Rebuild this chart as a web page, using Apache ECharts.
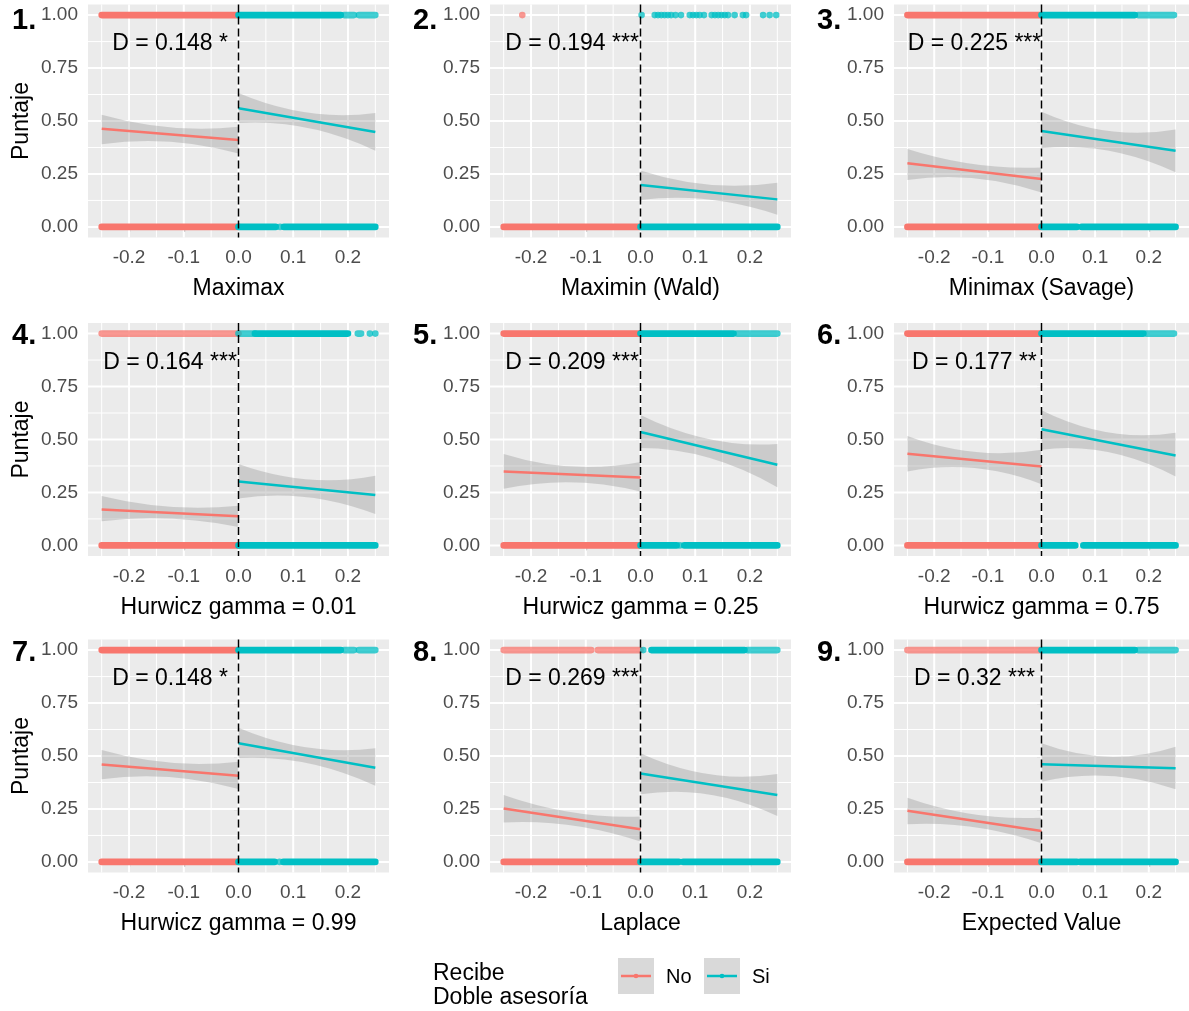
<!DOCTYPE html>
<html><head><meta charset="utf-8">
<script src="https://cdn.jsdelivr.net/npm/echarts@6/dist/echarts.min.js"></script>
<style>html,body{margin:0;padding:0;background:#fff}#c{width:1189px;height:1011px}</style>
</head><body><div id="c"></div>
<script>
// ---------- data ----------
const panelTitles = ['Maximax','Maximin (Wald)','Minimax (Savage)','Hurwicz gamma = 0.01','Hurwicz gamma = 0.25','Hurwicz gamma = 0.75','Hurwicz gamma = 0.99','Laplace','Expected Value'];
const panelTags = ['1.','2.','3.','4.','5.','6.','7.','8.','9.'];
const dLabels = ['D = 0.148 *','D = 0.194 ***','D = 0.225 ***','D = 0.164 ***','D = 0.209 ***','D = 0.177 **','D = 0.148 *','D = 0.269 ***','D = 0.32 ***'];
const xTicks = [-0.2,-0.1,0,0.1,0.2];
const yTicks = [0,0.25,0.5,0.75,1];
const xMinor = [-0.25,-0.15,-0.05,0.05,0.15,0.25];
const yMinor = [0.125,0.375,0.625,0.875];
const groups = ['No','Si'];

// fitted line end values: No at x=-0.25 and 0 ; Si at x=0 and 0.25
const fitXNo = [-0.25, 0];
const fitXSi = [0, 0.25];
const fitNo = [[0.463,0.41],null,[0.30,0.226],[0.17,0.138],[0.349,0.321],[0.433,0.373],[0.46,0.407],[0.252,0.154],[0.242,0.146]];
const fitSi = [[0.56,0.448],[0.198,0.13],[0.453,0.36],[0.302,0.238],[0.535,0.381],[0.548,0.424],[0.56,0.445],[0.417,0.316],[0.461,0.442]];

// confidence band (lower / upper) at 3 x positions
const bandXNo = [-0.25,-0.125,0];
const bandXSi = [0,0.125,0.25];
const bandNoLo = [[0.39,0.402,0.346],null,[0.222,0.23,0.162],[0.114,0.126,0.087],[0.267,0.298,0.254],[0.349,0.365,0.289],[0.39,0.40,0.344],[0.186,0.172,0.096],[0.178,0.164,0.088]];
const bandNoHi = [[0.53,0.47,0.473],null,[0.368,0.296,0.281],[0.233,0.182,0.187],[0.432,0.372,0.394],[0.516,0.441,0.452],[0.528,0.468,0.473],[0.316,0.234,0.214],[0.303,0.224,0.209]];
const bandSiLo = [[0.49,0.468,0.36],[0.127,0.129,0.057],[0.371,0.36,0.258],[0.222,0.228,0.148],[0.46,0.414,0.275],[0.452,0.44,0.325],[0.49,0.467,0.36],[0.319,0.319,0.217],[0.379,0.406,0.343]];
const bandSiHi = [[0.632,0.54,0.538],[0.266,0.199,0.209],[0.544,0.453,0.46],[0.384,0.312,0.329],[0.616,0.502,0.479],[0.638,0.533,0.532],[0.633,0.54,0.536],[0.513,0.414,0.415],[0.56,0.497,0.544]];

// point strips: [group, y, xStart, xEnd, dense(1) / sparse(0)]
const runsP1 = [['No',1,-0.25,0,1],['Si',1,0,0.187,1],['Si',1,0.193,0.211,0],['Si',1,0.22,0.25,0],
  ['No',0,-0.25,0,1],['Si',0,0,0.068,1],['Si',0,0.076,0.076,0],['Si',0,0.083,0.25,1]];
const runsP2 = [['No',1,-0.216,-0.216,0],
  ['Si',1,0.002,0.002,0],['Si',1,0.026,0.026,0],['Si',1,0.032,0.032,0],['Si',1,0.038,0.038,0],['Si',1,0.044,0.044,0],
  ['Si',1,0.05,0.05,0],['Si',1,0.056,0.056,0],['Si',1,0.064,0.064,0],['Si',1,0.074,0.074,0],
  ['Si',1,0.09,0.09,0],['Si',1,0.096,0.096,0],['Si',1,0.102,0.102,0],['Si',1,0.108,0.108,0],['Si',1,0.116,0.116,0],
  ['Si',1,0.13,0.13,0],['Si',1,0.136,0.136,0],['Si',1,0.142,0.142,0],['Si',1,0.148,0.148,0],['Si',1,0.154,0.154,0],
  ['Si',1,0.16,0.16,0],['Si',1,0.172,0.172,0],['Si',1,0.187,0.187,0],['Si',1,0.193,0.193,0],
  ['Si',1,0.224,0.224,0],['Si',1,0.236,0.236,0],['Si',1,0.248,0.248,0],
  ['No',0,-0.25,0,1],['Si',0,0,0.208,1],['Si',0,0.212,0.25,1]];
const runsP3 = [['No',1,-0.25,0,1],['Si',1,0,0.174,1],['Si',1,0.18,0.247,0],
  ['No',0,-0.25,0,1],['Si',0,0,0.066,1],['Si',0,0.075,0.25,1]];
const runsP4 = [['No',1,-0.25,0,0],['Si',1,0,0.03,0],['Si',1,0.03,0.2,1],['Si',1,0.218,0.224,0],['Si',1,0.24,0.24,0],['Si',1,0.25,0.25,0],
  ['No',0,-0.25,0,1],['Si',0,0,0.25,1]];
const runsP5 = [['No',1,-0.25,0,1],['Si',1,0,0.17,1],['Si',1,0.176,0.25,0],
  ['No',0,-0.25,0,1],['Si',0,0,0.066,1],['Si',0,0.072,0.072,0],['Si',0,0.08,0.25,1]];
const runsP6 = [['No',1,-0.25,0,1],['Si',1,0,0.19,1],['Si',1,0.195,0.247,0],
  ['No',0,-0.25,0,1],['Si',0,0,0.063,1],['Si',0,0.078,0.25,1]];
const runsP7 = [['No',1,-0.25,0,1],['Si',1,0,0.187,1],['Si',1,0.193,0.211,0],['Si',1,0.22,0.25,0],
  ['No',0,-0.25,0,1],['Si',0,0,0.066,1],['Si',0,0.075,0.075,0],['Si',0,0.082,0.25,1]];
const runsP8 = [['No',1,-0.25,-0.09,0],['No',1,-0.078,0,0],['Si',1,0.005,0.005,0],['Si',1,0.02,0.19,1],['Si',1,0.195,0.25,0],
  ['No',0,-0.25,0,1],['Si',0,0,0.07,1],['Si',0,0.078,0.25,1]];
const runsP9 = [['No',1,-0.25,0,0],['Si',1,0,0.174,1],['Si',1,0.18,0.25,0],
  ['No',0,-0.25,0,1],['Si',0,0,0.066,1],['Si',0,0.072,0.25,1]];
const runs = [runsP1,runsP2,runsP3,runsP4,runsP5,runsP6,runsP7,runsP8,runsP9];

// ---------- layout / style ----------
const FF = "'Liberation Sans', Arial, sans-serif";
const COL = {No:'#F8766D', Si:'#00BFC4'};
const BAND = 'rgba(153,153,153,0.38)';
const colLeft = [88, 490, 894];
const rowTop = [4.5, 323, 639.5];
const PW = 301, PH = 233;
const tagX = [12, 413, 817];
const tagY = [21, 336, 653];

const grids = [], xAxes = [], yAxes = [], series = [], graphics = [];

const gridLineData = [];
xTicks.forEach(v => gridLineData.push([v,0,1]));
xMinor.forEach(v => gridLineData.push([v,0,0]));
yTicks.forEach(v => gridLineData.push([v,1,1]));
yMinor.forEach(v => gridLineData.push([v,1,0]));

function gridRender(params, api) {
  const cs = params.coordSys;
  const v = api.value(0), horiz = api.value(1), major = api.value(2);
  const lw = major ? 2 : 1;
  if (!horiz) {
    const x = api.coord([v, 0])[0];
    return {type:'line', shape:{x1:x,y1:cs.y,x2:x,y2:cs.y+cs.height}, style:{stroke:'#fff', lineWidth:lw}};
  }
  const y = api.coord([0, v])[1];
  return {type:'line', shape:{x1:cs.x,y1:y,x2:cs.x+cs.width,y2:y}, style:{stroke:'#fff', lineWidth:lw}};
}

function stripRender(params, api) {
  const x0 = api.value(0), x1 = api.value(1), y = api.value(2), dense = api.value(3), g = api.value(4);
  const p0 = api.coord([x0, y]), p1 = api.coord([x1, y]);
  const rr = 3.3;
  return {type:'rect', shape:{x:p0[0]-rr, y:p0[1]-rr, width:p1[0]-p0[0]+2*rr, height:2*rr, r:rr},
    style:{fill: g ? COL.Si : COL.No, opacity: dense ? 1 : 0.75}};
}

// smooth band: each edge is a quadratic curve passing through the three read points
function bandSeries(i, bx, lo, hi) {
  return {type:'custom', xAxisIndex:i, yAxisIndex:i, z:3, silent:true,
    data: bx.map((x,k) => [x, lo[k], hi[k]]),
    renderItem: function(params, api) {
      if (params.dataIndex !== 0) return null;
      const U = bx.map((x,k) => api.coord([x, hi[k]]));
      const L = bx.map((x,k) => api.coord([x, lo[k]]));
      const ctrl = P => [2*P[1][0] - (P[0][0]+P[2][0])/2, 2*P[1][1] - (P[0][1]+P[2][1])/2];
      const cu = ctrl(U), cl = ctrl(L);
      const d = 'M' + U[0][0] + ' ' + U[0][1] +
        ' Q' + cu[0] + ' ' + cu[1] + ' ' + U[2][0] + ' ' + U[2][1] +
        ' L' + L[2][0] + ' ' + L[2][1] +
        ' Q' + cl[0] + ' ' + cl[1] + ' ' + L[0][0] + ' ' + L[0][1] + ' Z';
      return {type:'path', shape:{pathData:d}, style:{fill:BAND}};
    }};
}

for (let i = 0; i < 9; i++) {
  const r = Math.floor(i/3), c = i % 3;
  grids.push({left:colLeft[c], top:rowTop[r], width:PW, height:PH, show:true, backgroundColor:'#EBEBEB', borderWidth:0});
  xAxes.push({gridIndex:i, type:'value', min:-0.275, max:0.275,
    name:panelTitles[i], nameLocation:'middle', nameGap:40,
    nameTextStyle:{fontSize:23, color:'#000', fontFamily:FF},
    axisLine:{show:false}, splitLine:{show:false},
    axisTick:{show:true, customValues:xTicks, length:5, lineStyle:{color:'#333', width:1.1}},
    axisLabel:{customValues:xTicks, formatter:v => v.toFixed(1), color:'#4D4D4D', fontSize:19, margin:11, fontFamily:FF}});
  yAxes.push({gridIndex:i, type:'value', min:-0.05, max:1.05,
    name: c === 0 ? 'Puntaje' : '', nameLocation:'middle', nameGap:55,
    nameTextStyle:{fontSize:23, color:'#000', fontFamily:FF},
    axisLine:{show:false}, splitLine:{show:false},
    axisTick:{show:true, customValues:yTicks, length:5, lineStyle:{color:'#333', width:1.1}},
    axisLabel:{customValues:yTicks, formatter:v => v.toFixed(2), color:'#4D4D4D', fontSize:19, margin:10, fontFamily:FF}});

  series.push({type:'custom', xAxisIndex:i, yAxisIndex:i, z:1, silent:true, data:gridLineData, renderItem:gridRender});

  series.push({type:'custom', xAxisIndex:i, yAxisIndex:i, z:2, silent:true,
    data: runs[i].map(d => [d[2], d[3], d[1], d[4], groups.indexOf(d[0])]),
    renderItem: stripRender});

  if (bandNoLo[i]) series.push(bandSeries(i, bandXNo, bandNoLo[i], bandNoHi[i]));
  if (bandSiLo[i]) series.push(bandSeries(i, bandXSi, bandSiLo[i], bandSiHi[i]));

  if (fitNo[i]) series.push({type:'line', xAxisIndex:i, yAxisIndex:i, z:4, silent:true, showSymbol:false,
    data: fitXNo.map((x,k) => [x, fitNo[i][k]]), lineStyle:{color:COL.No, width:2.5}, itemStyle:{color:COL.No}});
  if (fitSi[i]) series.push({type:'line', xAxisIndex:i, yAxisIndex:i, z:4, silent:true, showSymbol:false,
    data: fitXSi.map((x,k) => [x, fitSi[i][k]]), lineStyle:{color:COL.Si, width:2.5}, itemStyle:{color:COL.Si}});

  // cutoff line at x = 0
  series.push({type:'custom', xAxisIndex:i, yAxisIndex:i, z:5, silent:true, data:[[0]],
    renderItem: function(params, api) {
      const cs = params.coordSys; const x = api.coord([api.value(0), 0])[0];
      return {type:'line', shape:{x1:x,y1:cs.y,x2:x,y2:cs.y+cs.height}, style:{stroke:'#000', lineWidth:1.5, lineDash:[8,4]}};
    }});

  // D annotation
  series.push({type:'custom', xAxisIndex:i, yAxisIndex:i, z:6, silent:true, data:[[-0.125, 0.865]],
    renderItem: function(params, api) {
      const p = api.coord([api.value(0), api.value(1)]);
      return {type:'text', x:p[0], y:p[1], style:{text:dLabels[i], fill:'#000', fontSize:23, fontFamily:FF, align:'center', verticalAlign:'middle'}};
    }});

  graphics.push({type:'text', left:tagX[c], top:tagY[r]-15, style:{text:panelTags[i], fill:'#000', fontSize:29, fontWeight:'bold', fontFamily:FF}});
}

// legend
graphics.push({type:'text', left:433, top:962, style:{text:'Recibe', fill:'#000', fontSize:23, fontFamily:FF}});
graphics.push({type:'text', left:433, top:986, style:{text:'Doble asesoría', fill:'#000', fontSize:23, fontFamily:FF}});
const legX = [618, 704];
groups.forEach((g, k) => {
  const x = legX[k];
  graphics.push({type:'rect', shape:{x:x, y:958, width:36, height:36}, style:{fill:'#D9D9D9'}});
  graphics.push({type:'line', shape:{x1:x+3, y1:976, x2:x+33, y2:976}, style:{stroke:COL[g], lineWidth:2.5}});
  graphics.push({type:'circle', shape:{cx:x+18, cy:976, r:2.3}, style:{fill:COL[g]}});
  graphics.push({type:'text', left:x+48, top:967, style:{text:g, fill:'#000', fontSize:20, fontFamily:FF}});
});

const chart = echarts.init(document.getElementById('c'), null, {renderer:'canvas'});
chart.setOption({
  backgroundColor:'#fff',
  animation:false,
  grid:grids, xAxis:xAxes, yAxis:yAxes, series:series, graphic:graphics
});
</script></body></html>
